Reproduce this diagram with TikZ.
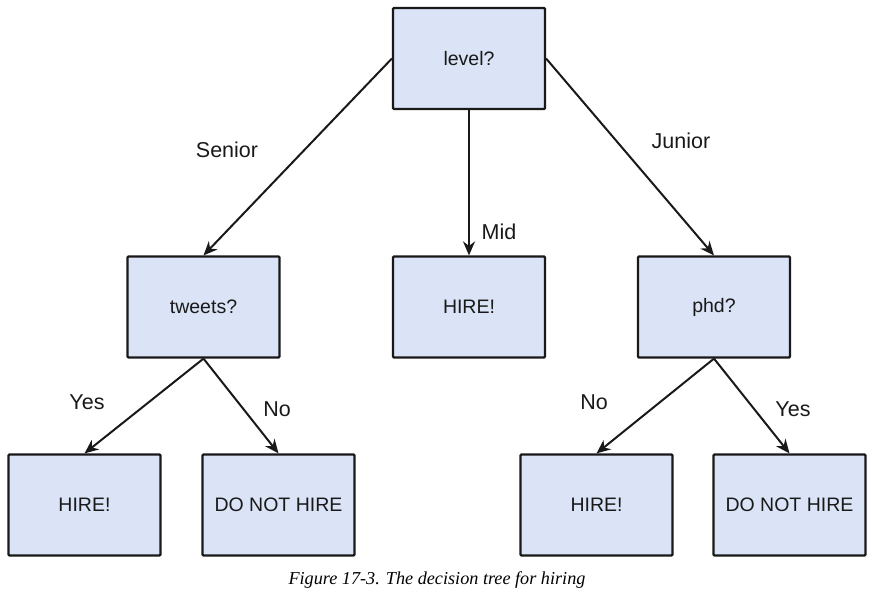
\documentclass[tikz,border=0pt]{standalone}
\usepackage{fontspec}
\setmainfont{Liberation Sans}
\newfontfamily\capfont{Liberation Serif}
\usetikzlibrary{arrows.meta}
\definecolor{boxfill}{RGB}{218,228,246}
\definecolor{ink}{RGB}{25,25,25}
\tikzset{
  treebox/.style={draw=ink, line width=2.2pt, fill=boxfill, minimum width=152pt, minimum height=101pt, inner sep=0pt, rounded corners=1pt, font=\fontsize{19.5}{22}\selectfont, text=ink},
  edge/.style={line width=2pt, draw=ink, -{Stealth[length=14pt,width=12pt]}},
  elabel/.style={font=\fontsize{21.5}{24}\selectfont, text=ink, inner sep=0pt}
}
\begin{document}
\begin{tikzpicture}[x=1pt,y=-1pt]
\useasboundingbox (0,0) rectangle (879,602);
\node[treebox] (level) at (469,58.5) {level?};
\node[treebox] (tweets) at (203.5,307) {tweets?};
\node[treebox] (hiremid) at (469,307) {HIRE!};
\node[treebox] (phd) at (714,307) {phd?};
\node[treebox] (hire1) at (84.5,505) {HIRE!};
\node[treebox] (dnh1) at (278.5,505) {DO NOT HIRE};
\node[treebox] (hire2) at (596.5,505) {HIRE!};
\node[treebox] (dnh2) at (789.5,505) {DO NOT HIRE};
\draw[edge] (level.west) -- (tweets.north);
\draw[edge] (level.south) -- (hiremid.north);
\draw[edge] (level.east) -- (phd.north);
\draw[edge] (tweets.south) -- (hire1.north);
\draw[edge] (tweets.south) -- (dnh1.north);
\draw[edge] (phd.south) -- (hire2.north);
\draw[edge] (phd.south) -- (dnh2.north);
\node[elabel] (lsenior) at (227,150) {Senior};
\node[elabel] (ljunior) at (681,141) {Junior};
\node[elabel] (lmid) at (499,232) {Mid};
\node[elabel] (lyes1) at (87,402) {Yes};
\node[elabel] (lno1) at (277,409) {No};
\node[elabel] (lno2) at (594,402) {No};
\node[elabel] (lyes2) at (793,409) {Yes};
\node[font=\capfont\itshape\fontsize{18.2}{21}\selectfont, inner sep=0pt] (cap) at (437,580) {Figure 17-3. The decision tree for hiring};
\end{tikzpicture}
\end{document}
